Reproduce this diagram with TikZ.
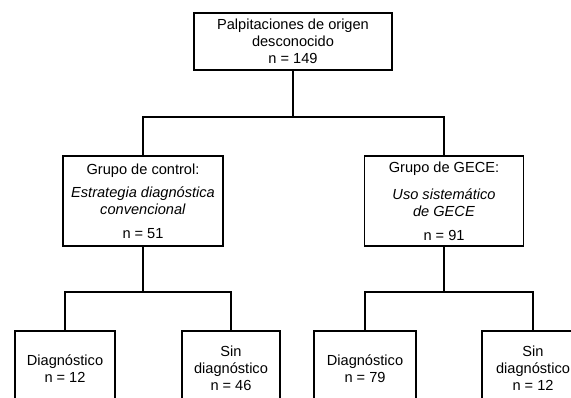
\documentclass[tikz,border=0pt]{standalone}
\usepackage{fontspec}
\setmainfont{Liberation Sans}

\begin{document}
\begin{tikzpicture}[x=1pt, y=-1pt,
		caja/.style={draw, line width=1.8pt, align=center, inner sep=0pt, font=\fontsize{14.6}{17}\selectfont},
		linea/.style={line width=1.8pt}]
		%%%%% START %%%%%
		
		\useasboundingbox (0, 0) rectangle (571, 397);
		\clip (0, 0) rectangle (571, 397);
		
		\node[caja, minimum width=198pt, minimum height=57pt] (origen) at (293, 41.5) {Palpitaciones de origen\\ desconocido\\ n = 149};
		
		\node[caja, minimum width=160pt, minimum height=90pt] (control) at (143, 201) {Grupo de control:\\[6pt] \textit{Estrategia diagnóstica}\\ \textit{convencional}\\[7pt] n = 51};
		\node[caja, minimum width=159pt, minimum height=90pt] (gece) at (444, 201) {Grupo de GECE:\\[10pt] \textit{Uso sistemático}\\ \textit{de GECE}\\[7pt] n = 91};
		
		\node[caja, minimum width=100pt, minimum height=75pt] (diag1) at (65, 368.5) {Diagnóstico\\ n = 12};
		\node[caja, minimum width=98pt, minimum height=75pt] (sin1) at (231, 368.5) {Sin\\ diagnóstico\\ n = 46};
		\node[caja, minimum width=102pt, minimum height=75pt] (diag2) at (365, 368.5) {Diagnóstico\\ n = 79};
		\node[caja, minimum width=102pt, minimum height=75pt] (sin2) at (533, 368.5) {Sin\\ diagnóstico\\ n = 12};
		
		\draw[linea] (origen.south) -- ++(0, 46) coordinate (r1);
		\draw[linea] (control.north) |- (r1) -| (gece.north);
		
		\draw[linea] (control.south) -- ++(0, 45) coordinate (r2);
		\draw[linea] (diag1.north) |- (r2) -| (sin1.north);
		
		\draw[linea] (gece.south) -- ++(0, 45) coordinate (r3);
		\draw[linea] (diag2.north) |- (r3) -| (sin2.north);
		
		%%%%% END %%%%%
	\end{tikzpicture}
\end{document}
